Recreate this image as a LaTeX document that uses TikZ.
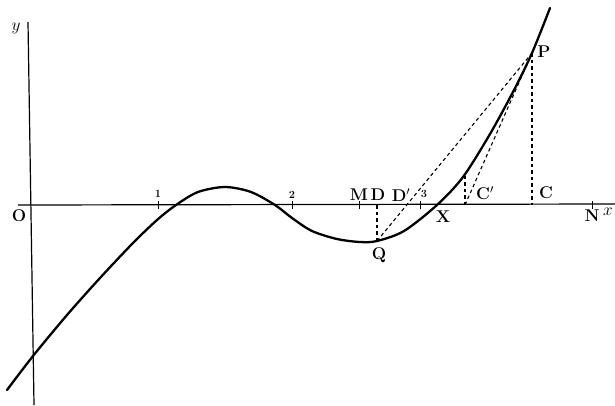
\documentclass[tikz,border=0pt]{standalone}
\begin{document}
\begin{tikzpicture}[x=1pt, y=-1pt,
    curve/.style={line width=2.3pt, line cap=round},
    axis/.style={line width=1.2pt},
    guide/.style={line width=1.1pt, dash pattern=on 3.5pt off 3pt},
    tick/.style={line width=0.9pt},
    lbl/.style={font=\fontsize{17}{17}\selectfont\bfseries, inner sep=0pt},
    num/.style={font=\fontsize{11}{11}\selectfont\bfseries, inner sep=0pt}
]
\useasboundingbox (0,0) rectangle (615,405);

% Axes
\coordinate (xstart) at (18,205);
\coordinate (xend) at (615,204);
\coordinate (ytop) at (28,22);
\coordinate (ybot) at (34,405);
\draw[axis] (xstart) -- (xend);
\draw[axis] (ytop) -- (ybot);

% Ticks at 1, 2, M, 3, N
\foreach \t in {158,292,359,420,592}
    \draw[tick] (\t,201) -- (\t,209);

% Points of the construction
\coordinate (Q) at (377,241);
\coordinate (D) at (377,205);
\coordinate (P) at (532,53);
\coordinate (C) at (532,205);
\coordinate (Cp) at (465,205);
\coordinate (Ccurve) at (465,176);

% The curve
\draw[curve] plot[smooth, tension=0.5] coordinates {
    (7,390) (33,356) (67,315) (100,278) (133,243) (157,220) (176,205)
    (198,192) (225,187) (251,192) (275,205) (292,218) (312,231)
    (337,239) (360,242) (377,241) (404,231) (437,205) (463,177)
    (490,134) (514,90) (532,53) (550,8)};

% Construction lines
\draw[guide] (Q) -- (D);
\draw[guide] (Q) -- (P);
\draw[guide] (P) -- (C);
\draw[guide] (P) -- (Cp);
\draw[guide] (Cp) -- (Ccurve);

% Labels
\node[lbl] (ylab) at (16,28) {\mdseries$y$};
\node[lbl] (xlab) at (608,212) {\mdseries$x$};
\node[lbl] (O) at (19,216) {O};
\node[num] (one) at (158,194) {1};
\node[num] (two) at (292,195) {2};
\node[num] (three) at (424,194) {3};
\node[lbl] (Mlab) at (359,195) {M};
\node[lbl] (Dlab) at (378,195) {D};
\node[lbl] (Dplab) at (401,195) {D$'$};
\node[lbl] (Xlab) at (443,217) {X};
\node[lbl] (Qlab) at (379,255) {Q};
\node[lbl] (Cplab) at (485,193) {C$'$};
\node[lbl] (Clab) at (546,193) {C};
\node[lbl] (Plab) at (544,52) {P};
\node[lbl] (Nlab) at (592,216) {N};
\end{tikzpicture}
\end{document}
